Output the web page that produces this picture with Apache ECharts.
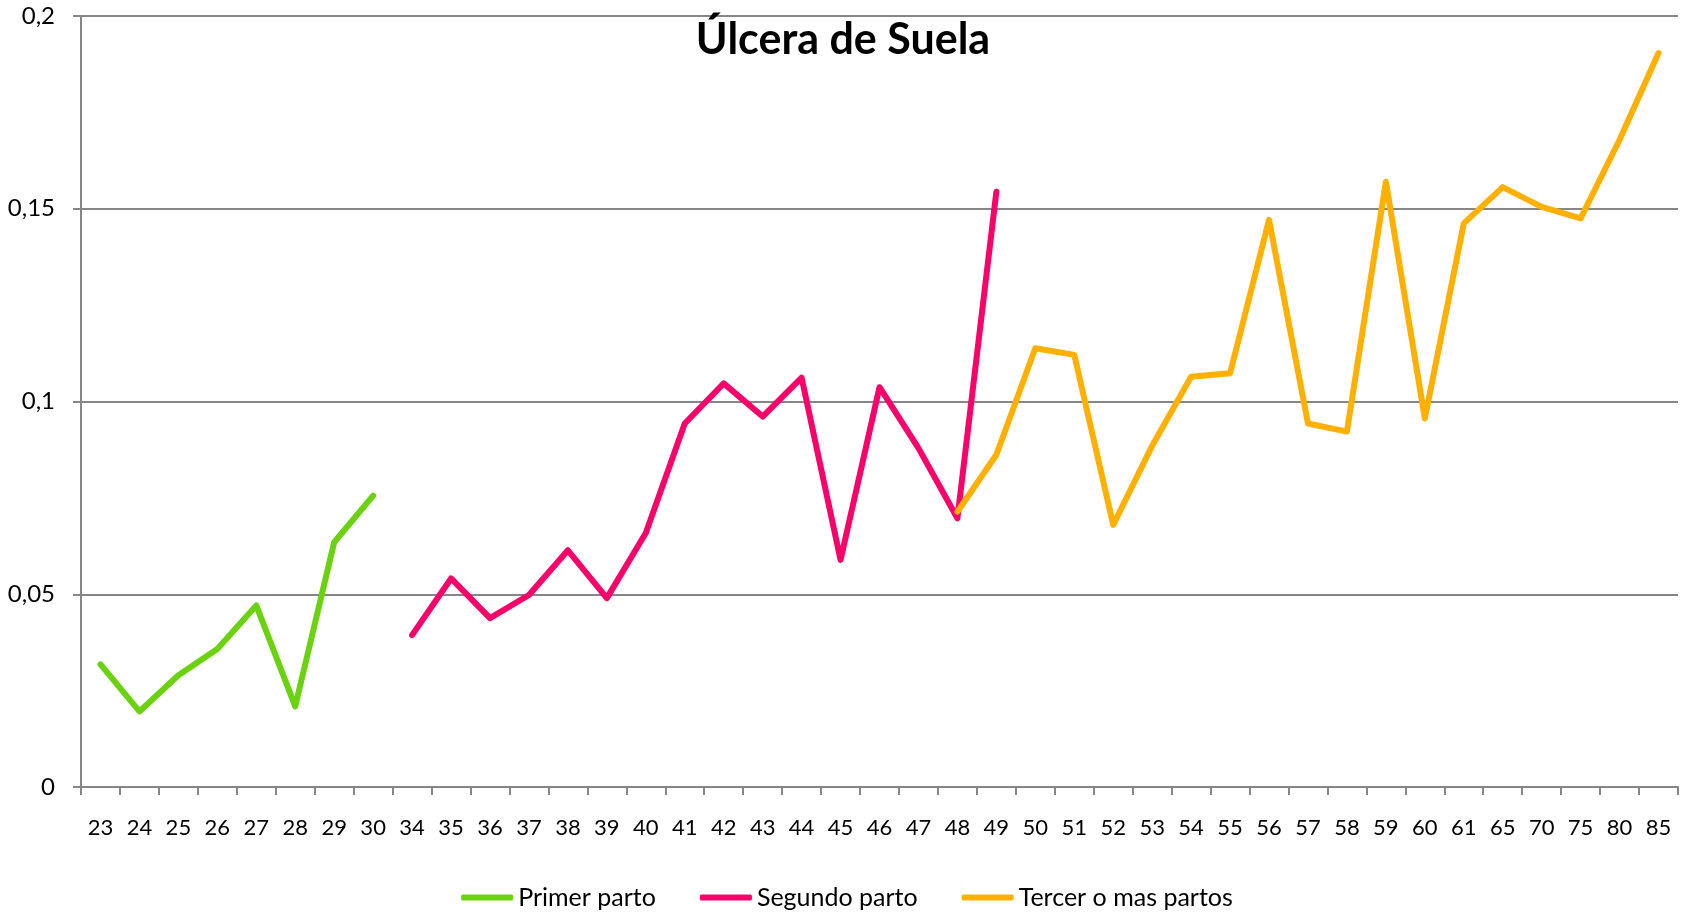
<!DOCTYPE html>
<html>
<head>
<meta charset="utf-8">
<script src="https://cdn.jsdelivr.net/npm/echarts@6/dist/echarts.min.js"></script>
<style>
html,body{margin:0;padding:0;background:#fff;}
#chart{width:1694px;height:914px;}
</style>
</head>
<body>
<div id="chart"></div>
<script>
const categories = ['23','24','25','26','27','28','29','30','34','35','36','37','38','39','40','41','42','43','44','45','46','47','48','49','50','51','52','53','54','55','56','57','58','59','60','61','65','70','75','80','85'];
const primerParto = [0.0318,0.0196,0.0290,0.0358,0.0471,0.0209,0.0635,0.0756,
  null,null,null,null,null,null,null,null,null,null,null,null,null,null,null,null,null,null,null,null,null,null,null,null,null,null,null,null,null,null,null,null,null];
const segundoParto = [null,null,null,null,null,null,null,null,
  0.0394,0.0541,0.0438,0.0498,0.0614,0.0490,0.0659,0.0943,0.1047,0.0961,0.1062,0.0589,0.1037,0.0879,0.0697,0.1544,
  null,null,null,null,null,null,null,null,null,null,null,null,null,null,null,null,null];
const tercerParto = [null,null,null,null,null,null,null,null,
  null,null,null,null,null,null,null,null,null,null,null,null,null,null,
  0.0714,0.0862,0.1138,0.1121,0.0680,0.0885,0.1064,0.1073,0.1471,0.0943,0.0922,0.1570,0.0956,0.1462,0.1556,0.1505,0.1475,0.1679,0.1904];
const seriesNames = ['Primer parto','Segundo parto','Tercer o mas partos'];
const seriesColors = ['#6BD20F','#F7036A','#FFB000'];
const titleText = 'Úlcera de Suela';

const FONT = 'Lato';
const chart = echarts.init(document.getElementById('chart'));
const mk = (name, data, color) => ({
  name, type: 'line', data, showSymbol: false, symbol: 'none',
  connectNulls: false, animation: false,
  lineStyle: { color, width: 6, cap: 'round', join: 'round' },
  itemStyle: { color }
});
chart.setOption({
  animation: false,
  backgroundColor: '#fff',
  title: {
    text: titleText, left: 838, top: 14, textAlign: 'center',
    textStyle: { fontFamily: FONT, fontSize: 43, fontWeight: 'bold', color: '#000' }
  },
  legend: {
    left: 'center', top: 880,
    itemWidth: 52, itemHeight: 6, itemGap: 44, icon: 'roundRect',
    textStyle: { fontFamily: FONT, fontSize: 25, color: '#000' },
    data: seriesNames
  },
  grid: { left: 81, right: 16, top: 16, bottom: 127, containLabel: false },
  xAxis: {
    type: 'category', data: categories, boundaryGap: true,
    axisLine: { lineStyle: { color: '#868686', width: 2 } },
    axisTick: { show: true, length: 8, lineStyle: { color: '#868686', width: 2 } },
    axisLabel: { fontFamily: FONT, fontSize: 22, color: '#000', margin: 30, interval: 0 }
  },
  yAxis: {
    type: 'value', min: 0, max: 0.2, interval: 0.05,
    axisLine: { show: true, lineStyle: { color: '#868686', width: 2 } },
    axisTick: { show: true, length: 8, lineStyle: { color: '#868686', width: 2 } },
    splitLine: { show: true, lineStyle: { color: '#868686', width: 2 } },
    axisLabel: {
      fontFamily: FONT, fontSize: 24, color: '#000', margin: 26,
      formatter: v => String(Math.round(v * 100) / 100).replace('.', ',')
    }
  },
  series: [
    mk(seriesNames[0], primerParto, seriesColors[0]),
    mk(seriesNames[1], segundoParto, seriesColors[1]),
    mk(seriesNames[2], tercerParto, seriesColors[2])
  ]
});
</script>
</body>
</html>
